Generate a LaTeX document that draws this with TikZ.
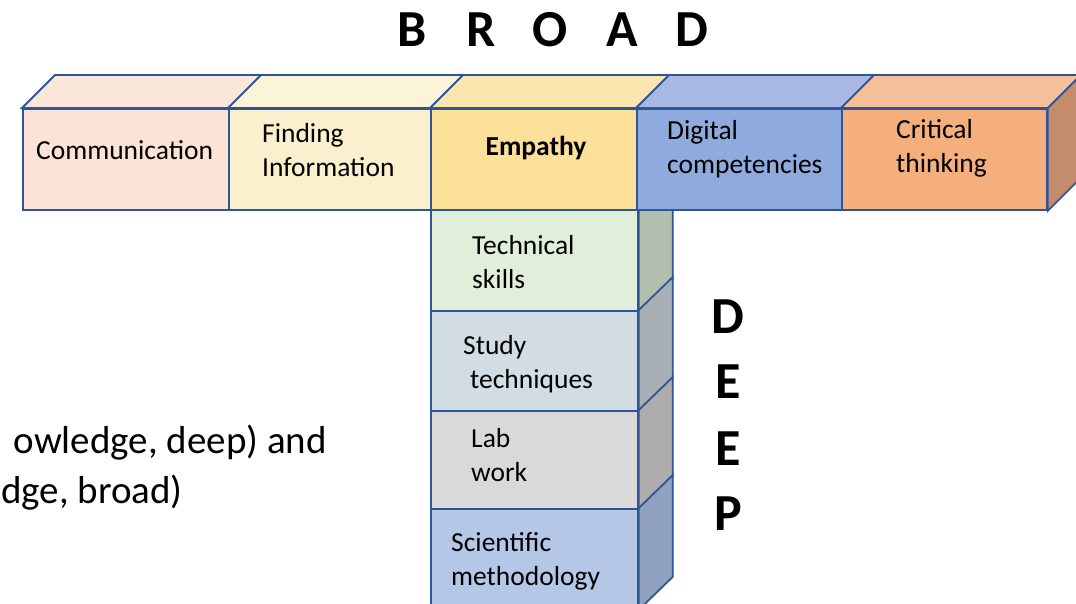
\documentclass[tikz,border=0pt]{standalone}
\usepackage{fontspec}
\setmainfont{Carlito}
\definecolor{edge}{HTML}{2F5597}
\definecolor{commF}{HTML}{FBE3D6}\definecolor{commT}{HTML}{FBE6DB}
\definecolor{findF}{HTML}{FBF0CE}\definecolor{findT}{HTML}{FCF4D8}
\definecolor{empF}{HTML}{FBE09A}\definecolor{empT}{HTML}{FBE7AD}
\definecolor{digF}{HTML}{8FAADC}\definecolor{digT}{HTML}{A6B8E3}
\definecolor{critF}{HTML}{F4AF7D}\definecolor{critT}{HTML}{F4BF99}\definecolor{critS}{HTML}{C48C6A}
\definecolor{techF}{HTML}{E1EED9}\definecolor{techS}{HTML}{B3BFAE}
\definecolor{studF}{HTML}{D1DDE3}\definecolor{studS}{HTML}{A8B0B5}
\definecolor{labF}{HTML}{D9D9D9}\definecolor{labS}{HTML}{ADADAD}
\definecolor{sciF}{HTML}{B4C7E7}\definecolor{sciS}{HTML}{8FA1BE}
\begin{document}
\begin{tikzpicture}[x=1pt,y=-1pt,
  face/.style={draw=edge,line width=1.8pt,line join=miter},
  block/.style={face,rectangle,inner sep=0pt,anchor=north west},
  lbl/.style={inner sep=0pt,anchor=west,align=left,font=\fontsize{27.5}{34}\selectfont},
  big/.style={inner sep=0pt,font=\fontsize{52}{52}\selectfont\bfseries},
  prose/.style={inner sep=0pt,anchor=base east,font=\fontsize{39}{46}\selectfont}]
\clip (0,0) rectangle (1076,604);
\fill[white] (0,0) rectangle (1076,604);

% vertical stack (front faces)
\node[block,fill=techF,minimum width=207pt,minimum height=101pt] (tech) at (430,209) {};
\node[block,fill=studF,minimum width=207pt,minimum height=100pt] (stud) at (430,310) {};
\node[block,fill=labF,minimum width=207pt,minimum height=98pt] (lab) at (430,410) {};
\node[block,fill=sciF,minimum width=207pt,minimum height=100pt] (sci) at (430,508) {};

% vertical stack (side faces)
\foreach \s/\c in {tech/techS,stud/studS,lab/labS,sci/sciS}{
  \draw[face,fill=\c] (\s.north east) -- ++(34,-33) -- ([shift={(34,-33)}]\s.south east) -- (\s.south east) -- cycle;
}

% horizontal bar (front faces)
\node[block,fill=commF,minimum width=206pt,minimum height=101pt] (comm) at (22,108) {};
\node[block,fill=findF,minimum width=202pt,minimum height=101pt] (find) at (228,108) {};
\node[block,fill=empF,minimum width=206pt,minimum height=101pt] (emp) at (430,108) {};
\node[block,fill=digF,minimum width=205pt,minimum height=101pt] (dig) at (636,108) {};
\node[block,fill=critF,minimum width=205pt,minimum height=101pt] (crit) at (841,108) {};

% horizontal bar (top faces)
\foreach \s/\c in {comm/commT,find/findT,emp/empT,dig/digT,crit/critT}{
  \draw[face,fill=\c] (\s.north west) -- ++(33,-33) -- ([shift={(33,-33)}]\s.north east) -- (\s.north east) -- cycle;
}
% right end face
\draw[face,fill=critS] (crit.north east) -- ++(33,-33) -- ([shift={(33,-33)}]crit.south east) -- (crit.south east) -- cycle;

% labels on the blocks
\node[lbl] (tComm) at (36,150) {Communication};
\node[lbl] (tFind) at (262,150) {Finding\\Information};
\node[lbl,anchor=center,font=\fontsize{27.5}{34}\selectfont\bfseries] (tEmp) at (536,148) {Empathy};
\node[lbl] (tDig) at (667,149) {Digital\\competencies};
\node[lbl] (tCrit) at (896,148) {Critical\\thinking};
\node[lbl] (tTech) at (472,262) {Technical\\skills};
\node[lbl] (tStud) at (463,364) {Study\\\hspace*{7pt}techniques};
\node[lbl] (tLab) at (471,455) {Lab\\work};
\node[lbl] (tSci) at (451,561) {Scientific\\methodology};

% headings
\foreach \ch/\xx [count=\i] in {B/412,R/481,O/550,A/622,D/692}
  \node[big] (b\i) at (\xx,30) {\ch};
\foreach \ch/\yy [count=\i] in {D/317,E/382,E/449,P/514}
  \node[big] (d\i) at (728,\yy) {\ch};

% running text at the left
\node[prose] (p1) at (327,453) {owledge, deep) and};
\node[prose] (p2) at (183,503) {dge, broad)};
\end{tikzpicture}
\end{document}
